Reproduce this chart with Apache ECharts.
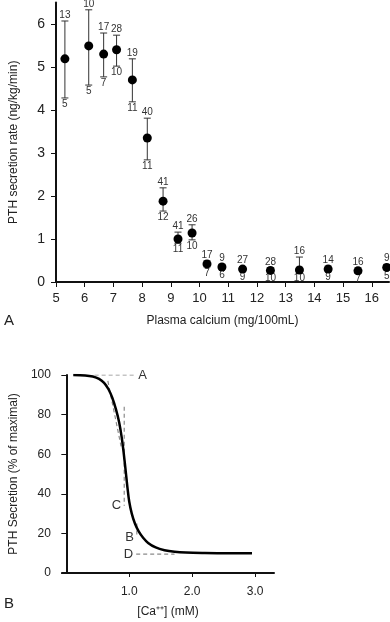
<!DOCTYPE html>
<html>
<head>
<meta charset="utf-8">
<script src="https://cdn.jsdelivr.net/npm/echarts@6/dist/echarts.min.js"></script>
<style>html,body{margin:0;padding:0;background:#fff}#c{width:390px;height:622px}</style>
</head>
<body>
<div id="c"></div>
<script>
// Panel A: PTH secretion rate vs plasma calcium
const caA = [5.31, 6.14, 6.66, 7.11, 7.66, 8.18, 8.73, 9.25, 9.74, 10.26, 10.78, 11.5, 12.47, 13.48, 14.48, 15.52, 16.52];
const pthMean = [5.19, 5.49, 5.3, 5.4, 4.7, 3.35, 1.88, 1.0, 1.14, 0.42, 0.35, 0.3, 0.27, 0.28, 0.3, 0.26, 0.34];
const pthUpper = [6.07, 6.33, 5.79, 5.74, 5.19, 3.81, 2.19, 1.16, 1.33, 0.49, 0.41, 0.36, 0.33, 0.58, 0.37, 0.33, 0.41];
const pthLower = [4.28, 4.58, 4.77, 5.02, 4.19, 2.84, 1.65, 0.9, 0.98, 0.35, 0.3, 0.25, 0.22, 0.22, 0.24, 0.2, 0.28];
const nTop = [13, 10, 17, 28, 19, 40, 41, 41, 26, 17, 9, 27, 28, 16, 14, 16, 9];
const nBottom = [5, 5, 7, 10, 11, 11, 12, 11, 10, 7, 6, 9, 10, 10, 9, 7, 5];
const xTicksA = [5, 6, 7, 8, 9, 10, 11, 12, 13, 14, 15, 16];
const yTicksA = [0, 1, 2, 3, 4, 5, 6];

// Panel B: PTH secretion (% of maximal) vs [Ca++]
const caB = [0.11, 0.3, 0.42, 0.52, 0.6, 0.67, 0.73, 0.79, 0.84, 0.88, 0.91, 0.94, 0.97, 1.0, 1.04, 1.09, 1.15, 1.22, 1.3, 1.42, 1.56, 1.72, 1.9, 2.2, 2.6, 2.95];
const secB = [100, 99.8, 99.2, 98, 96, 92.8, 88.5, 82.5, 76, 68.5, 61, 52.5, 43.5, 36, 30, 25, 21, 17.8, 15.2, 12.9, 11.5, 10.7, 10.3, 10.1, 10, 10];
const xTicksB = [1, 2, 3];
const yTicksB = [0, 20, 40, 60, 80, 100];
// annotation guides: [x, y] pairs
const guideA = [[0.45, 100], [1.11, 100]];
const guideC = [[0.92, 84], [0.92, 34]];
const guideSlope = [[0.66, 97], [0.87, 64]];
const guideB = [[1.12, 25], [1.12, 18]];
const guideD = [[1.11, 9.5], [1.72, 9.5]];

const FONT = '"Liberation Sans", Arial, sans-serif';
const TXT = '#222';
const chart = echarts.init(document.getElementById('c'), null, {renderer: 'canvas'});

const dataA = caA.map((x, i) => [x, pthMean[i], pthUpper[i], pthLower[i], nTop[i], nBottom[i]]);
const dash = {color: '#8a8a8a', width: 1.2, type: [4, 3]};
function guide(data, name, pos, at, dist) {
  return {
    type: 'line', xAxisIndex: 1, yAxisIndex: 1, silent: true, symbol: 'none',
    lineStyle: dash,
    data: data.map((d, i) => i === at ? {value: d, symbol: 'circle', symbolSize: 0.01,
      label: {show: !!name, formatter: name || '', position: pos, distance: dist, color: '#333', fontSize: 13, fontFamily: FONT}} : d),
    z: 1
  };
}

chart.setOption({
  animation: false,
  textStyle: {fontFamily: FONT},
  grid: [
    {left: 54, top: 2.5, width: 335, height: 279.5},
    {left: 53, top: 375, width: 221, height: 198}
  ],
  xAxis: [
    {type: 'value', gridIndex: 0, min: 5, max: 16.6,
     axisLine: {lineStyle: {color: '#111', width: 2}},
     axisTick: {show: true, customValues: xTicksA, length: 5, lineStyle: {color: '#111', width: 1}},
     axisLabel: {customValues: xTicksA, color: TXT, fontSize: 13, margin: 10, fontFamily: FONT},
     splitLine: {show: false},
     name: 'Plasma calcium (mg/100mL)', nameLocation: 'middle', nameGap: 33,
     nameTextStyle: {color: TXT, fontSize: 12, fontFamily: FONT}},
    {type: 'value', gridIndex: 1, min: -0.07, max: 3.3,
     axisLine: {lineStyle: {color: '#111', width: 2}},
     axisTick: {show: true, customValues: xTicksB, length: 4, lineStyle: {color: '#111', width: 1}},
     axisLabel: {customValues: xTicksB, color: TXT, fontSize: 12, margin: 13, fontFamily: FONT,
                 formatter: v => v.toFixed(1)},
     splitLine: {show: false},
     name: '[Ca\u207A\u207A] (mM)', nameLocation: 'middle', nameGap: 33,
     nameTextStyle: {color: TXT, fontSize: 12, fontFamily: FONT}}
  ],
  yAxis: [
    {type: 'value', gridIndex: 0, min: 0, max: 6.5,
     axisLine: {show: true, lineStyle: {color: '#111', width: 2}},
     axisTick: {show: true, customValues: yTicksA, length: 5, lineStyle: {color: '#111', width: 1}},
     axisLabel: {customValues: yTicksA, color: TXT, fontSize: 14, margin: 11, fontFamily: FONT},
     splitLine: {show: false},
     name: 'PTH secretion rate (ng/kg/min)', nameLocation: 'middle', nameGap: 36, nameRotate: 90,
     nameTextStyle: {color: TXT, fontSize: 12, fontFamily: FONT}},
    {type: 'value', gridIndex: 1, min: 0, max: 100,
     axisLine: {show: true, lineStyle: {color: '#111', width: 2}},
     axisTick: {show: true, customValues: yTicksB, length: 5, lineStyle: {color: '#111', width: 1}},
     axisLabel: {customValues: yTicksB, color: TXT, fontSize: 12, margin: 11, fontFamily: FONT},
     splitLine: {show: false},
     name: 'PTH Secretion (% of maximal)', nameLocation: 'middle', nameGap: 34, nameRotate: 90,
     nameTextStyle: {color: TXT, fontSize: 12, fontFamily: FONT}}
  ],
  graphic: [
    {type: 'text', left: 4, top: 313, style: {text: 'A', fontSize: 15, fill: TXT, fontFamily: FONT}},
    {type: 'text', left: 4, top: 596, style: {text: 'B', fontSize: 15, fill: TXT, fontFamily: FONT}}
  ],
  series: [
    {
      type: 'custom', xAxisIndex: 0, yAxisIndex: 0, clip: false, silent: true,
      data: dataA,
      renderItem: function (params, api) {
        const x = api.value(0);
        const pU = api.coord([x, api.value(2)]);
        const pL = api.coord([x, api.value(3)]);
        const st = {stroke: '#333', lineWidth: 1};
        const cw = 3.5;
        return {
          type: 'group',
          children: [
            {type: 'line', shape: {x1: pU[0], y1: pU[1], x2: pL[0], y2: pL[1]}, style: st},
            {type: 'line', shape: {x1: pU[0] - cw, y1: pU[1], x2: pU[0] + cw, y2: pU[1]}, style: st},
            {type: 'line', shape: {x1: pL[0] - cw, y1: pL[1], x2: pL[0] + cw, y2: pL[1]}, style: st},
            {type: 'text', x: pU[0], y: pU[1] - 1, style: {text: String(api.value(4)), fill: '#333',
              fontSize: 10, fontFamily: FONT, align: 'center', verticalAlign: 'bottom'}},
            {type: 'text', x: pL[0], y: pL[1] + 1, style: {text: String(api.value(5)), fill: '#333',
              fontSize: 10, fontFamily: FONT, align: 'center', verticalAlign: 'top'}}
          ]
        };
      },
      z: 2
    },
    {
      type: 'scatter', xAxisIndex: 0, yAxisIndex: 0, symbol: 'circle', symbolSize: 9,
      itemStyle: {color: '#000', opacity: 1}, silent: true,
      data: caA.map((x, i) => [x, pthMean[i]]), z: 3
    },
    guide(guideA, 'A', 'right', 1, 2),
    guide(guideSlope, null, 'left', 1, 3),
    guide(guideC, 'C', 'left', 1, 3),
    guide(guideB, 'B', 'left', 1, 3),
    guide(guideD, 'D', 'left', 0, 3),
    {
      type: 'line', xAxisIndex: 1, yAxisIndex: 1, symbol: 'none', smooth: 0.35,
      lineStyle: {color: '#000', width: 2.5}, silent: true,
      data: caB.map((x, i) => [x, secB[i]]), z: 3
    }
  ]
});
</script>
</body>
</html>
